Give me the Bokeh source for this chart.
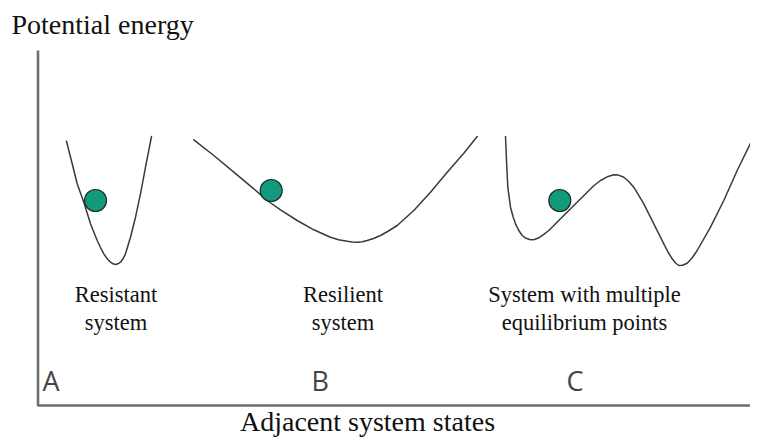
from bokeh.plotting import figure
from bokeh.models import Range1d, ColumnDataSource
from bokeh.core.properties import value
from bokeh.embed import file_html
from bokeh.resources import INLINE

# ---- data (positions in the diagram's own coordinate space) ----
# Curve A: resistant system (narrow deep well)
a_x = [66.0, 71.7, 76.7, 83.3, 90.0, 96.7, 100.0, 103.3, 106.7, 110.0, 112.5, 115.0, 117.5, 120.0, 122.5, 125.0,
       130.0, 135.0, 140.0, 145.0, 151.0]
a_y = [140.7, 163.3, 183.3, 201.7, 223.3, 240.0, 247.0, 253.3, 258.3, 261.7, 263.3, 264.0, 263.3, 261.7, 258.3, 253.3,
       236.7, 216.7, 193.3, 166.7, 136.0]

# Curve B: resilient system (wide shallow well)
b_x = [193.3, 213.3, 233.3, 253.3, 266.7, 280.0, 296.7, 313.3, 330.0, 338.0, 346.7, 351.7, 356.7, 361.7, 366.7,
       373.0, 380.0, 388.0, 396.7, 413.3, 430.0, 446.7, 463.3, 476.7]
b_y = [139.3, 155.0, 171.7, 188.3, 200.0, 209.3, 220.0, 229.3, 236.7, 239.2, 240.7, 241.4, 241.7, 241.2, 240.0,
       238.0, 235.0, 230.5, 225.0, 210.0, 191.7, 171.7, 152.7, 136.0]

# Curve C: multiple equilibrium points (double well)
c_x = [505.0, 506.0, 507.3, 510.0, 512.5, 515.0, 518.0, 521.7, 525.5, 530.0, 534.0, 538.3, 543.0, 548.3, 560.0,
       573.3, 586.7, 593.0, 600.0, 606.7, 613.3, 618.0, 623.3, 628.3, 633.3, 643.3, 653.3, 663.3, 667.5, 671.7,
       675.0, 678.3, 682.0, 686.7, 691.5, 696.7, 710.0, 723.3, 736.7, 753.3]
c_y = [136.0, 160.0, 186.7, 206.7, 216.0, 223.3, 229.5, 235.0, 237.8, 239.3, 239.0, 237.3, 234.2, 230.0, 218.3,
       205.0, 191.7, 185.5, 180.0, 176.3, 174.3, 174.6, 176.7, 181.0, 186.7, 203.3, 223.3, 243.3, 251.5, 258.3,
       262.5, 265.0, 264.8, 262.7, 257.5, 250.0, 226.7, 200.0, 170.0, 136.0]

# Balls
ball_x = [95.0, 270.7, 559.3]
ball_y = [200.0, 190.0, 200.0]

# Axes
axis_x = [37.5, 37.5, 758.0]
axis_y = [50.0, 405.0, 405.0]

# Captions
cap_line1 = ["Resistant", "Resilient", "System with multiple"]
cap_line2 = ["system", "system", "equilibrium points"]
cap_x = [115.5, 342.5, 584.0]
cap_y1 = [302.0, 302.0, 302.0]
cap_y2 = [330.0, 330.0, 330.0]

letters = ["A", "B", "C"]
letter_x = [42.0, 311.0, 566.0]
letter_y = [392.0, 392.0, 392.0]

y_title = ["Potential energy"]
y_title_x = [11.0]
y_title_y = [34.0]

x_title = ["Adjacent system states"]
x_title_x = [367.0]
x_title_y = [435.0]

# ---- figure ----
p = figure(width=750, height=437, output_backend="svg", toolbar_location=None,
           x_range=Range1d(0, 750), y_range=Range1d(437, 0), min_border=0)
p.axis.visible = False
p.grid.visible = False
p.outline_line_color = None
p.background_fill_color = "white"
p.border_fill_color = "white"

# axes lines
p.line(axis_x, axis_y, line_color="#6e6e6e", line_width=2.6)

curve_color = "#3a3a3a"
for xs, ys in ((a_x, a_y), (b_x, b_y), (c_x, c_y)):
    p.line(xs, ys, line_color=curve_color, line_width=1.5, line_join="round", line_cap="round")

p.circle(ball_x, ball_y, radius=11, fill_color="#129a7c", line_color="#1d2f2b", line_width=1.2)

serif = value("Liberation Serif")

src1 = ColumnDataSource(dict(x=cap_x, y=cap_y1, t=cap_line1))
src2 = ColumnDataSource(dict(x=cap_x, y=cap_y2, t=cap_line2))
for s in (src1, src2):
    p.text(x="x", y="y", text="t", source=s, text_font=serif, text_font_size="22.5px",
           text_align="center", text_baseline="alphabetic", text_color="#111111", y_offset=-8)

p.text(x=letter_x, y=letter_y, text=letters, text_font=value("Open Sans"), text_font_size="27px",
       text_align="left", text_baseline="alphabetic", text_color="#454545", y_offset=-12)

p.text(x=y_title_x, y=y_title_y, text=y_title, text_font=serif, text_font_size="28px",
       text_align="left", text_baseline="alphabetic", text_color="#111111", y_offset=-10)

p.text(x=x_title_x, y=x_title_y, text=x_title, text_font=serif, text_font_size="28px",
       text_align="center", text_baseline="alphabetic", text_color="#111111", y_offset=-14)

open("out.html", "w").write(file_html(p, INLINE))
